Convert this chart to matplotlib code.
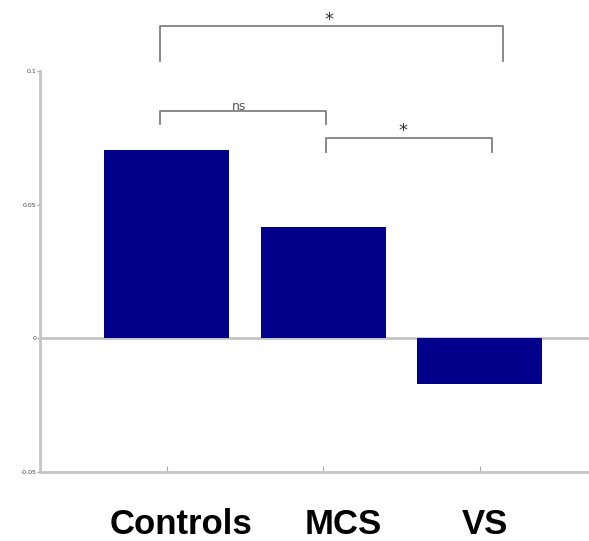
import matplotlib
matplotlib.use("Agg")
import matplotlib.pyplot as plt
import matplotlib.transforms as mtransforms

categories = ["Controls", "MCS", "VS"]
values = [0.0705, 0.0418, -0.0172]
yticks = [-0.05, 0, 0.05, 0.1]
yticklabels = ["-0.05", "0", "0.05", "0.1"]

# significance brackets: (x_left, x_right, y_top, y_drop, label, label_x, label_y)
brackets = [
    (0.96, 3.15, 0.1168, 0.1037, "*", 2.04, 0.1190),
    (0.96, 2.02, 0.0850, 0.0800, "ns", 1.46, 0.0868),
    (2.02, 3.08, 0.0749, 0.0697, "*", 2.51, 0.0775),
]

fig = plt.figure(figsize=(5.89, 5.41), dpi=100)
ax = fig.add_axes([40/589, 1 - 472/541, 1 - 40/589, (472 - 71)/541])

x = [1, 2, 3]
ax.bar(x, values, width=0.8, color="#00008B", zorder=3)
ax.axhline(0, color="#c4c4c4", lw=2, zorder=2)

ax.set_xlim(0.19, 3.7)
ax.set_ylim(-0.05, 0.1)

for s in ["top", "right"]:
    ax.spines[s].set_visible(False)
for s in ["left", "bottom"]:
    ax.spines[s].set_color("#c4c4c4")
    ax.spines[s].set_linewidth(2)

ax.set_yticks(yticks)
ax.set_yticklabels(yticklabels, fontsize=4.5, color="#444444")
ax.tick_params(axis="y", direction="out", length=2, width=0.8, color="#999999", pad=0.5)

ax.set_xticks(x)
ax.set_xticklabels(categories, fontsize=25, fontweight="black", family="Liberation Sans")
ax.tick_params(axis="x", direction="in", length=4, width=0.8, color="#aaaaaa", pad=26)
offsets_px = [14, 20, 5]
for lab, dx in zip(ax.get_xticklabels(), offsets_px):
    lab.set_transform(lab.get_transform() + mtransforms.ScaledTranslation(dx/100, 0, fig.dpi_scale_trans))

for x0, x1, yt, yd, lbl, lx, ly in brackets:
    ax.plot([x0, x0, x1, x1], [yd, yt, yt, yd], color="#808080", lw=1.3, clip_on=False, zorder=4)
    if lbl == "*":
        ax.text(lx, ly, lbl, ha="center", va="center", fontsize=13, color="#333333", clip_on=False)
    else:
        ax.text(lx, ly, lbl, ha="center", va="center", fontsize=9, color="#555555", clip_on=False)

fig.savefig("out.png", dpi=100)
